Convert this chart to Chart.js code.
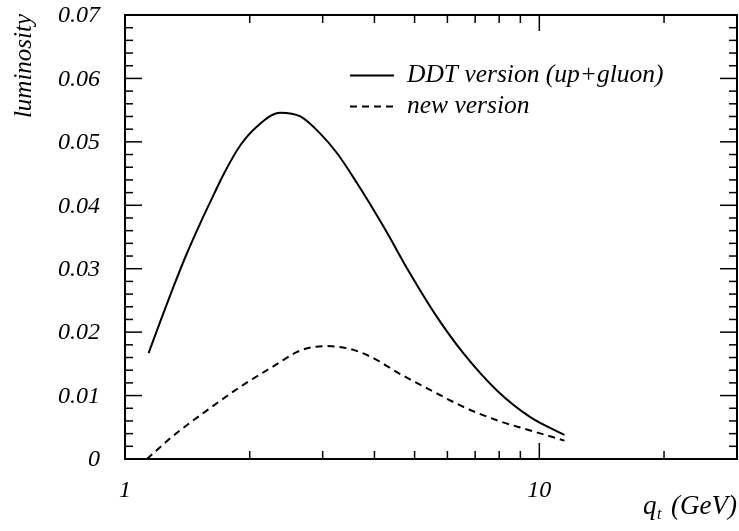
<!DOCTYPE html>
<html lang="en">
  <head>
    <meta charset="UTF-8" />
    <title>luminosity vs q_t</title>
    <script src="https://cdn.jsdelivr.net/npm/chart.js"></script>
    <style>
      html, body { margin: 0; padding: 0; background: #fff; }
      #wrap { width: 739px; height: 531px; }
    </style>
  </head>
  <body>
    <div id="wrap"><canvas id="lumChart"></canvas></div>

    <script>
      // values
      const qtDDT = [1.14, 1.22, 1.31, 1.41, 1.52, 1.63, 1.73, 1.90, 2.08, 2.37, 2.65, 2.96, 3.25, 3.63, 4.21, 4.88, 5.66, 6.57, 7.90, 9.51, 11.5];
      const lumDDT = [0.0167, 0.0219, 0.0272, 0.0324, 0.0372, 0.0414, 0.0449, 0.0495, 0.0524, 0.0546, 0.0540, 0.0513, 0.0482, 0.0435, 0.0366, 0.0292, 0.0224, 0.0166, 0.0108, 0.0066, 0.0038];
      const qtNew = [1.13, 1.31, 1.58, 1.90, 2.28, 2.65, 3.07, 3.56, 4.06, 4.53, 5.45, 6.57, 7.90, 9.51, 11.5];
      const lumNew = [0.0, 0.0037, 0.0077, 0.0114, 0.0146, 0.0171, 0.0178, 0.0172, 0.0156, 0.0137, 0.0109, 0.0082, 0.0061, 0.0045, 0.0029];

      const seriesNames = ["DDT version (up+gluon)", "new version"];
      const xMajor = [1, 10];
      const xMinor = [2, 3, 4, 5, 6, 7, 8, 9, 20];
      const yMajor = [0, 0.01, 0.02, 0.03, 0.04, 0.05, 0.06, 0.07];
      const yLabels = ["0", "0.01", "0.02", "0.03", "0.04", "0.05", "0.06", "0.07"];

      const SERIF = "'Liberation Serif', 'Times New Roman', serif";

      const toPoints = (xs, ys) => xs.map((x, i) => ({ x: x, y: ys[i] }));

      // frame, inward ticks on all four sides, tick labels, titles, legend
      const framePlugin = {
        id: "frame",
        afterDraw(chart) {
          const { ctx, chartArea: a, scales } = chart;
          const sx = scales.x, sy = scales.y;
          ctx.save();
          ctx.strokeStyle = "#000";
          ctx.fillStyle = "#000";
          ctx.lineWidth = 2;
          ctx.strokeRect(a.left, a.top, a.right - a.left, a.bottom - a.top);

          ctx.lineWidth = 1.5;
          const tick = (x1, y1, x2, y2) => {
            ctx.beginPath();
            ctx.moveTo(x1, y1);
            ctx.lineTo(x2, y2);
            ctx.stroke();
          };
          xMajor.concat(xMinor).forEach((v) => {
            const px = sx.getPixelForValue(v);
            const len = xMajor.includes(v) ? 16 : 8;
            tick(px, a.bottom, px, a.bottom - len);
            tick(px, a.top, px, a.top + len);
          });
          for (let v = 0; v <= 0.0701; v += 0.002) {
            const py = sy.getPixelForValue(v);
            const major = Math.abs(v / 0.01 - Math.round(v / 0.01)) < 1e-6;
            const len = major ? 17 : 8;
            tick(a.left, py, a.left + len, py);
            tick(a.right, py, a.right - len, py);
          }

          ctx.font = "italic 24px " + SERIF;
          ctx.textAlign = "right";
          ctx.textBaseline = "middle";
          yMajor.forEach((v, i) => {
            ctx.fillText(yLabels[i], a.left - 25, sy.getPixelForValue(v) + 1);
          });
          ctx.textAlign = "center";
          ctx.textBaseline = "top";
          xMajor.forEach((v) => {
            ctx.fillText(String(v), sx.getPixelForValue(v), a.bottom + 20);
          });

          // axis titles
          ctx.save();
          ctx.font = "italic 25px " + SERIF;
          ctx.translate(24, 66);
          ctx.rotate(-Math.PI / 2);
          ctx.textAlign = "center";
          ctx.textBaseline = "middle";
          ctx.fillText("luminosity", 0, 0);
          ctx.restore();

          ctx.textBaseline = "alphabetic";
          ctx.font = "italic 27px " + SERIF;
          ctx.textAlign = "left";
          ctx.fillText("q", a.right - 94, a.bottom + 55);
          ctx.textAlign = "right";
          ctx.fillText("(GeV)", a.right, a.bottom + 55);
          ctx.textAlign = "left";
          ctx.font = "italic 16px " + SERIF;
          ctx.fillText("t", a.right - 80, a.bottom + 60);

          // legend
          ctx.font = "italic 25.5px " + SERIF;
          const lx = a.left + 225, base = [a.top + 67, a.top + 98];
          chart.data.datasets.forEach((ds, i) => {
            ctx.lineWidth = ds.borderWidth;
            ctx.setLineDash(ds.borderDash || []);
            tick(lx, base[i] - 6.5, lx + 44, base[i] - 6.5);
            ctx.setLineDash([]);
            ctx.fillText(seriesNames[i], lx + 57, base[i]);
          });
          ctx.restore();
        },
      };

      new Chart(document.getElementById("lumChart"), {
        type: "scatter",
        data: {
          datasets: [
            {
              label: seriesNames[0],
              data: toPoints(qtDDT, lumDDT),
              showLine: true,
              borderColor: "#000",
              borderWidth: 2,
              pointRadius: 0,
              cubicInterpolationMode: "monotone",
            },
            {
              label: seriesNames[1],
              data: toPoints(qtNew, lumNew),
              showLine: true,
              borderColor: "#000",
              borderWidth: 2,
              borderDash: [7, 5],
              pointRadius: 0,
              cubicInterpolationMode: "monotone",
            },
          ],
        },
        options: {
          responsive: true,
          maintainAspectRatio: false,
          animation: false,
          layout: { padding: { left: 125, top: 15, right: 2, bottom: 72 } },
          plugins: { legend: { display: false }, tooltip: { enabled: false } },
          scales: {
            x: { type: "logarithmic", min: 1, max: 30, display: false },
            y: { type: "linear", min: 0, max: 0.07, display: false },
          },
        },
        plugins: [framePlugin],
      });
    </script>
  </body>
</html>
